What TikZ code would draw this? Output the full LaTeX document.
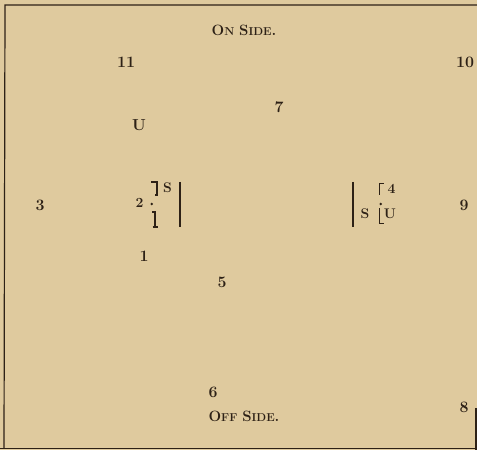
\documentclass[tikz,border=0pt]{standalone}
\begin{document}
\definecolor{paper}{RGB}{223,202,158}
\definecolor{ink}{RGB}{45,33,22}
\newcommand{\bigc}[1]{{\fontsize{15}{15}\bfseries\selectfont #1}}
\newcommand{\smc}[1]{{\fontsize{11.5}{11.5}\bfseries\selectfont #1}}
\begin{tikzpicture}[x=1bp,y=-1bp,
  num/.style={text=ink,inner sep=0pt,font=\fontsize{16}{16}\selectfont\bfseries},
  sml/.style={text=ink,inner sep=0pt,font=\fontsize{14}{14}\selectfont\bfseries},
  headtext/.style={text=ink,inner sep=0pt,font=\bfseries},
  rule/.style={draw=ink,line width=1.2pt},
  bar/.style={draw=ink,line width=2pt},
  brk/.style={draw=ink,line width=1.1pt}]
\fill[paper] (0,0) rectangle (477,450);
\useasboundingbox (0,0) rectangle (477,450);
% border
\coordinate (tl) at (5,5);
\coordinate (tr) at (477,5);
\coordinate (bl) at (4,448);
\coordinate (bl0) at (0,448.5);
\coordinate (br) at (477,448.5);
\coordinate (rt) at (476,408);
\coordinate (rb) at (476,450);
\draw[rule] (tr) -- (tl) -- (bl);
\draw[rule] (bl0) -- (br);
\draw[rule] (rt) -- (rb);
% headings
\node[headtext] (on) at (244,30.5) {\bigc{O}\smc{N}\hspace{1pt} \bigc{S}\smc{IDE}\bigc{.}};
\node[headtext] (off) at (244,416) {\bigc{O}\smc{FF}\hspace{1pt} \bigc{S}\smc{IDE}\bigc{.}};
% numbers
\node[num] (n11) at (126,62) {11};
\node[num] (n10) at (465,62) {10};
\node[num] (n7) at (279,107) {7};
\node[num] (u1) at (139,125) {U};
\node[num] (n3) at (40,205) {3};
\node[num] (n9) at (464,205) {9};
\node[num] (n1) at (144,256) {1};
\node[num] (n5) at (222,282) {5};
\node[num] (n6) at (213,392) {6};
\node[num] (n8) at (464,407) {8};
% left group
\node[sml] (n2) at (139.5,203) {2};
\fill[ink] (151.7,204) circle (1.4);
\node[sml] (s1) at (167.5,188) {S};
\draw[brk] (151,182) -- (157,182) -- (157,195) -- (155,195);
\draw[brk] (152,212) -- (155,212) -- (155,227);
\draw[brk] (152.5,227) -- (157.5,227);
\coordinate (lbt) at (180,182);
\coordinate (lbb) at (180,227);
\draw[bar] (lbt) -- (lbb);
% right group
\coordinate (rbt) at (352.7,182);
\coordinate (rbb) at (352.7,227);
\draw[bar] (rbt) -- (rbb);
\draw[brk] (383.5,183.3) -- (379.5,183.3) -- (379.5,195);
\node[sml] (n4) at (391.5,188.5) {4};
\fill[ink] (380.7,204) circle (1.4);
\draw[brk] (379.5,208.3) -- (379.5,223.3) -- (383.5,223.3);
\node[sml] (s2) at (365,214) {S};
\node[sml] (u2) at (390,214) {U};
\end{tikzpicture}
\end{document}
